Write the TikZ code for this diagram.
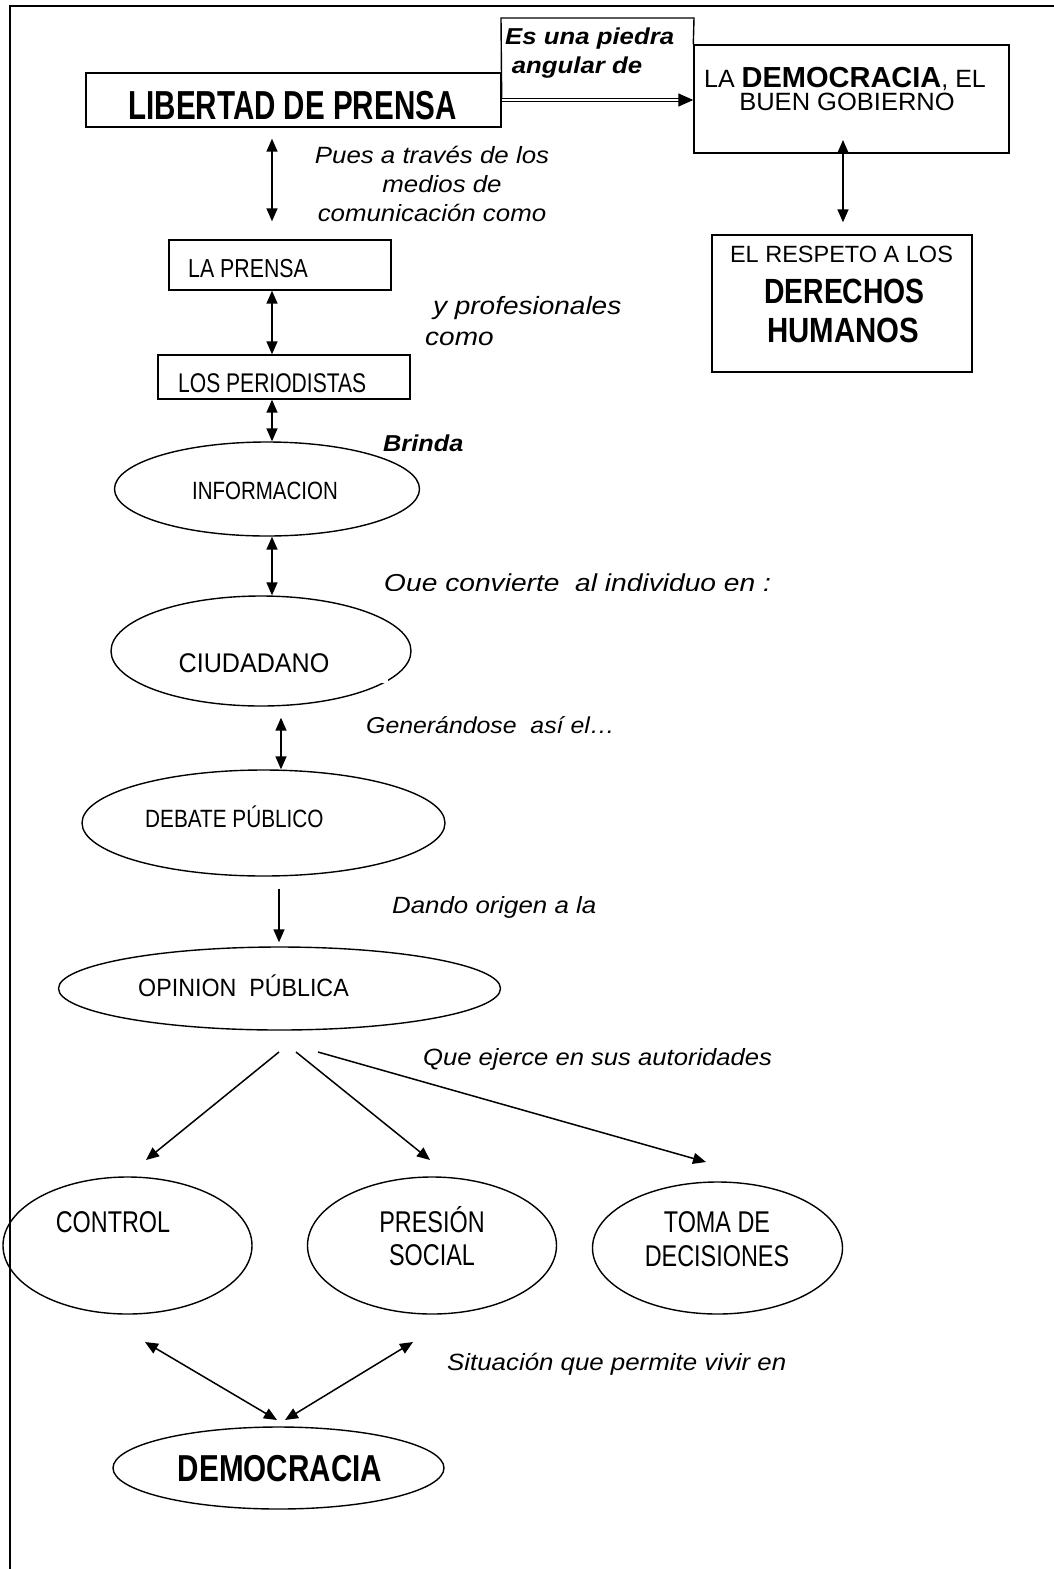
\documentclass[tikz,border=0pt]{standalone}
\usepackage{fontspec}
\setmainfont{Liberation Sans}
\usepackage{graphicx}
\usetikzlibrary{arrows.meta,shapes.geometric,calc}
\newcommand\nr[3]{\scalebox{#2}[1]{\fontsize{#1}{#1}\selectfont #3}}
\newcommand\nbf[3]{\scalebox{#2}[1]{\fontsize{#1}{#1}\selectfont\bfseries #3}}
\newcommand\lk[2]{\scalebox{#1}[1]{#2}}
\tikzset{
  box/.style={draw, line width=1.4pt, inner sep=0pt, rectangle},
  ell/.style={draw, line width=1.4pt, inner sep=0pt, ellipse},
  tip/.tip={Triangle[length=13pt,width=11pt]},
  arr/.style={line width=1.5pt, -tip},
  barr/.style={line width=1.5pt, tip-tip},
  txt/.style={inner sep=0pt, anchor=base},
  txtw/.style={inner sep=0pt, anchor=base west},
  lbl/.style={inner sep=0pt, anchor=base west, font=\fontsize{#1}{29}\selectfont\itshape},
  lbl/.default=23.5,
  lblc/.style={inner sep=0pt, anchor=base, font=\fontsize{23.5}{29}\selectfont\itshape},
  lblb/.style={inner sep=0pt, anchor=base west, font=\fontsize{23}{29}\selectfont\bfseries\itshape},
}
\begin{document}
\begin{tikzpicture}[x=1pt,y=-1pt]
\useasboundingbox (0,0) rectangle (1054,1569);
% page frame
\draw[line width=1.6pt] (10,1569) -- (10,6) -- (1054,6);

% ---------- top row ----------
\node[box, minimum width=415pt, minimum height=54pt] (lib) at (293.5,100) {};
\node[txt] (libt) at (292.5,119) {\nbf{40.5}{0.73}{LIBERTAD DE PRENSA}};

\node[box, minimum width=315pt, minimum height=108pt] (dem) at (851.5,99) {};
\node[txt] (demt1) at (845,87) {\nr{25}{1.0}{LA \bfseries\fontsize{29}{29}\selectfont DEMOCRACIA\mdseries\fontsize{25}{25}\selectfont, EL}};
\node[txt] (demt2) at (847,110) {\nr{25}{1.02}{BUEN GOBIERNO}};

% label box "Es una piedra angular de"
\coordinate (ptl) at (501,18);
\coordinate (ptr) at (694,18);
\draw[line width=1.4pt] (lib.east) -- (ptl) -- (ptr) -- (dem.north west);
\node[lblb] (pied1) at (505,44) {\lk{1.12}{Es una piedra}};
\node[lblb] (pied2) at (505,73) {\lk{1.12}{\hspace*{6pt}angular de}};
\draw[line width=1.3pt, double distance=2pt, -{Triangle[length=15pt,width=13pt]}] (lib.east) -- (dem.west |- lib.east);

% derechos humanos
\node[box, minimum width=260pt, minimum height=137pt] (der) at (842,303.5) {};
\node[txt] (dert1) at (841.5,262) {\nr{23.5}{1.0}{EL RESPETO A LOS}};
\node[txt] (dert2) at (844.5,303) {\nbf{35}{0.81}{DERECHOS}};
\node[txt] (dert3) at (843,342) {\nbf{35}{0.84}{HUMANOS}};
\coordinate (x843) at (843,140);
\draw[barr, shorten >=12pt] (x843) -- (der.north -| x843);

% ---------- left column ----------
\coordinate (x272) at (272,0);
\coordinate (x281) at (281,0);
\coordinate (x279) at (279,0);

\node[lblc] (pues1) at (432,163) {\lk{1.1}{Pues a través de los}};
\node[lblc] (pues2) at (442,192) {\lk{1.1}{medios de}};
\node[lblc] (pues3) at (432,221) {\lk{1.1}{comunicación como}};

\node[box, minimum width=222pt, minimum height=50pt] (lapr) at (280,265) {};
\node[txtw] (laprt) at (188,277) {\nr{26}{0.82}{LA PRENSA}};
\draw[barr, shorten <=11pt, shorten >=18pt] (lib.south -| x272) -- (lapr.north -| x272);

\node[lbl=25] (prof1) at (425,314) {\lk{1.12}{\hspace*{7pt}y profesionales}};
\node[lbl=25] (prof2) at (425,345) {\lk{1.12}{como}};

\node[box, minimum width=252pt, minimum height=44pt] (peri) at (284,377) {};
\node[txtw] (perit) at (178,392) {\nr{27}{0.78}{LOS PERIODISTAS}};
\draw[barr] (lapr.south -| x272) -- (peri.north -| x272);

\node[lblb] (brinda) at (383,451) {\lk{1.1}{Brinda}};

\node[ell, minimum width=305pt, minimum height=94pt] (info) at (267,489) {};
\node[txt] (infot) at (265,499) {\nr{25}{0.82}{INFORMACION}};
\draw[barr] (peri.south -| x272) -- (info.north -| x272);

\begin{scope}
\clip (370,555) rectangle (800,590);
\node[lbl=24.5] (conv) at (384,591) {\lk{1.15}{Que convierte\ \ al individuo en :}};
\end{scope}

\node[ell, minimum width=300pt, minimum height=110pt] (ciud) at (261,651) {};
\fill[white] (381,672) rectangle (388,683);
\node[txt] (ciudt) at (254,672) {\nr{27}{0.93}{CIUDADANO}};
\draw[barr] (info.south -| x272) -- (ciud.north -| x272);

\node[lbl=23] (gen) at (366,733) {\lk{1.08}{Generándose\ \ así el…}};

\node[ell, minimum width=363pt, minimum height=106pt] (deb) at (263.5,823) {};
\node[txtw] (debt) at (145,827) {\nr{25}{0.83}{DEBATE PÚBLICO}};
\draw[barr, shorten <=11pt] (ciud.south -| x281) -- (deb.north -| x281);

\node[lbl] (dando) at (392,913) {\lk{1.1}{Dando origen a la}};

\node[ell, minimum width=442pt, minimum height=83pt] (opin) at (279.5,988.5) {};
\node[txtw] (opint) at (138,996) {\nr{25}{0.93}{OPINION\ \ PÚBLICA}};
\draw[arr, shorten <=12pt, shorten >=4pt] (deb.south -| x279) -- (opin.north -| x279);

\node[lbl] (ejerce) at (423,1065) {\lk{1.09}{Que ejerce en sus autoridades}};

% ---------- bottom row ----------
\node[ell, minimum width=249pt, minimum height=137pt] (ctrl) at (127.5,1245.5) {};
\node[txt] (ctrlt) at (113,1232) {\nr{30}{0.78}{CONTROL}};

\node[ell, minimum width=249pt, minimum height=137pt] (pres) at (432,1245.5) {};
\node[txt] (prest1) at (432,1232) {\nr{30}{0.78}{PRESIÓN}};
\node[txt] (prest2) at (432,1265) {\nr{30}{0.78}{SOCIAL}};

\node[ell, minimum width=250pt, minimum height=132pt] (toma) at (717.5,1248) {};
\node[txt] (tomat1) at (717,1232) {\nr{30}{0.78}{TOMA DE}};
\node[txt] (tomat2) at (717,1266) {\nr{30}{0.78}{DECISIONES}};

\coordinate (o1s) at (279,1052);
\coordinate (o2s) at (296,1052);
\coordinate (o3s) at (318,1052);
\coordinate (o1e) at (146,1160);
\coordinate (o2e) at (430,1160);
\coordinate (o3e) at (706,1162);
\draw[arr] (o1s) -- (o1e);
\draw[arr] (o2s) -- (o2e);
\draw[arr] (o3s) -- (o3e);

\node[lbl] (sit) at (447,1370) {\lk{1.1}{Situación que permite vivir en}};

\node[ell, minimum width=331pt, minimum height=82pt] (demo) at (278.5,1468) {};
\node[txt] (demot) at (280,1481) {\nbf{37.5}{0.79}{DEMOCRACIA}};

\coordinate (c1s) at (145,1342);
\coordinate (c2s) at (413,1342);
\coordinate (c1e) at (277,1420);
\coordinate (c2e) at (285,1420);
\draw[barr] (c1s) -- (c1e);
\draw[barr] (c2s) -- (c2e);
\end{tikzpicture}
\end{document}
